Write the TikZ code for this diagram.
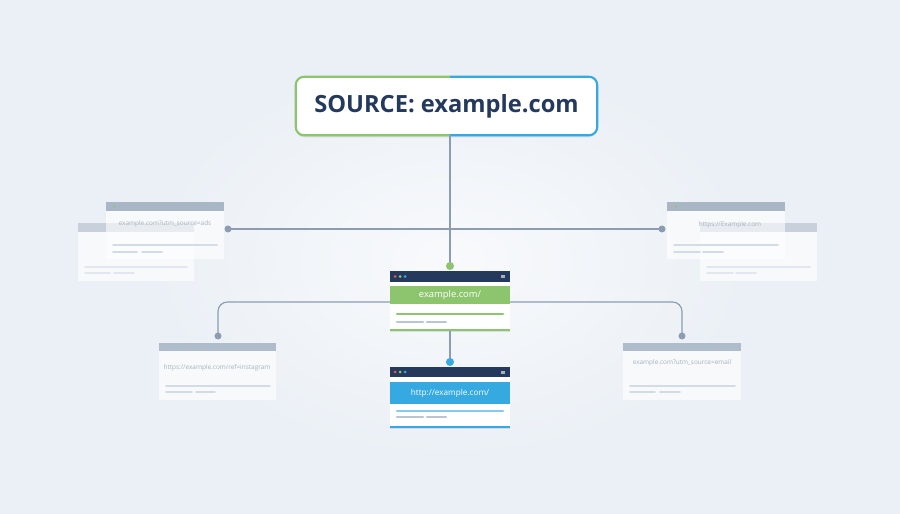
\documentclass[tikz,border=0pt]{standalone}
\usepackage{fontspec}
\setmainfont{Open Sans}
\usetikzlibrary{fit,shadows}
\definecolor{bgcol}{HTML}{EBF0F6}
\definecolor{navy}{HTML}{24395C}
\definecolor{leafgreen}{HTML}{8CC56E}
\definecolor{skyblue}{HTML}{36A9E1}
\definecolor{linegray}{HTML}{8C9DB2}
\definecolor{fadehead}{HTML}{A8B6C6}
\definecolor{fadebar}{HTML}{D3DCE6}
\definecolor{fadetext}{HTML}{A5B2C0}
\definecolor{dotred}{HTML}{E8554E}
\definecolor{barblue}{HTML}{B8C6D4}
\begin{document}
\begin{tikzpicture}[x=0.03cm,y=-0.03cm,
    link/.style={draw=linegray,line width=1pt},
    winbox/.style={fill=white,inner sep=0pt,drop shadow={shadow xshift=0pt,shadow yshift=-2pt,opacity=0.12,fill=navy}},
    fadebox/.style={fill=white,fill opacity=0.6,inner sep=0pt},
    fadelabel/.style={text=fadetext,font=\fontsize{5.5}{6}\selectfont},
    fadeline/.style={draw=fadebar,line width=1.6pt,line cap=round},
    weblabel/.style={text=white,font=\fontsize{7}{8}\selectfont}]
    % background
    \useasboundingbox (0,0) rectangle (900,514);
    \fill[bgcol] (0,0) rectangle (900,514);
    \shade[inner color=white!65!bgcol,outer color=bgcol] (150,60) rectangle (750,460);

    % source box
    \node[winbox,rounded corners=7pt,fit={(296,77)(597,135)}] (source) {};
    \begin{scope}
        \clip (280,60) rectangle (450,150);
        \draw[leafgreen,line width=1.8pt,rounded corners=7pt] (source.north west) rectangle (source.south east);
    \end{scope}
    \begin{scope}
        \clip (450,60) rectangle (620,150);
        \draw[skyblue,line width=1.8pt,rounded corners=7pt] (source.north west) rectangle (source.south east);
    \end{scope}
    \node[text=navy,font=\bfseries\fontsize{20.2}{22}\selectfont] (sourcelabel) at (source) {SOURCE: example.com};

    % back windows
    \node[fadebox,fit={(78,223)(194,281)}] (adsback) {};
    \fill[fadehead,opacity=0.6] (78,223) rectangle (194,232);
    \draw[fadeline,opacity=0.6] (85,267) -- (187,267) (85,273) -- (110,273) (114,273) -- (134,273);
    \node[fadebox,fit={(700,223)(817,281)}] (webback) {};
    \fill[fadehead,opacity=0.6] (700,223) rectangle (817,232);
    \draw[fadeline,opacity=0.6] (707,267) -- (810,267) (707,273) -- (733,273) (736,273) -- (756,273);

    % ads window
    \node[fadebox,fit={(106,202)(224,259)}] (adswin) {};
    \fill[fadehead] (106,202) rectangle (224,211);
    \fill[leafgreen] (114,206.5) circle (1.2);
    \node[fadelabel] (adslabel) at (165,224) {example.com?utm\_source=ads};
    \draw[fadeline] (113,245) -- (217,245) (113,252) -- (137,252) (142,252) -- (162,252);

    % web window
    \node[fadebox,fit={(667,202)(785,259)}] (webwin) {};
    \fill[fadehead] (667,202) rectangle (785,211);
    \fill[dotred!60] (672,206.5) circle (1.2);
    \fill[leafgreen] (676,206.5) circle (1.2);
    \node[fadelabel] (weblabel) at (730,225) {https://Example.com};
    \draw[fadeline] (674,245) -- (778,245) (674,252) -- (700,252) (703,252) -- (723,252);

    % instagram window
    \node[fadebox,fit={(159,343)(276,400)}] (igwin) {};
    \fill[fadehead,opacity=0.9] (159,343) rectangle (276,351);
    \node[fadelabel] (iglabel) at (217,368) {https://example.com/ref=instagram};
    \draw[fadeline] (166,386) -- (270,386) (166,392) -- (192,392) (196,392) -- (215,392);

    % email window
    \node[fadebox,fit={(623,343)(741,400)}] (mailwin) {};
    \fill[fadehead,opacity=0.9] (623,343) rectangle (741,351);
    \node[fadelabel] (maillabel) at (682,363) {example.com?utm\_source=email};
    \draw[fadeline] (630,386) -- (735,386) (630,392) -- (655,392) (660,392) -- (680,392);

    % connectors
    \coordinate (hubdot) at (450,266);
    \coordinate (adsdot) at (228,229);
    \coordinate (webdot) at (662,229);
    \coordinate (mainleft) at (390,302);
    \coordinate (mainright) at (510,302);
    \coordinate (igdot) at (218,336);
    \coordinate (maildot) at (682,336);
    \coordinate (httpdot) at (450,362);
    \draw[link] (source.south -| hubdot) -- (hubdot);
    \draw[link] (adsdot) -- (webdot);
    \draw[link,rounded corners=8pt] (mainleft) -| (igdot);
    \draw[link,rounded corners=8pt] (mainright) -| (maildot);

    % main window
    \node[winbox,fit={(390,271)(510,330)}] (mainwin) {};
    \draw[link] (mainwin.south) -- (httpdot);
    \fill[navy] (mainwin.north west) rectangle ++(120,11);
    \fill[dotred] (395,276.5) circle (1.5);
    \fill[leafgreen] (400,276.5) circle (1.5);
    \fill[skyblue] (405,276.5) circle (1.5);
    \fill[white!60!navy] (501,275) rectangle (505,278);
    \fill[leafgreen] (390,286) rectangle (510,304);
    \node[weblabel,font=\fontsize{8}{9}\selectfont] (mainlabel) at (450,295) {example.com/};
    \draw[leafgreen,line width=2pt,line cap=round] (397,314) -- (503,314);
    \draw[barblue,line width=2pt,line cap=round] (397,322) -- (423,322) (427,322) -- (446,322);
    \draw[leafgreen,line width=2pt] (mainwin.south west) -- (mainwin.south east);

    % http window
    \node[winbox,fit={(390,367)(510,427)}] (httpwin) {};
    \fill[navy] (httpwin.north west) rectangle ++(120,10);
    \fill[dotred] (395,372) circle (1.5);
    \fill[leafgreen] (400,372) circle (1.5);
    \fill[skyblue] (405,372) circle (1.5);
    \fill[white!60!navy] (501,370.5) rectangle (505,373.5);
    \fill[skyblue] (390,382) rectangle (510,404);
    \node[weblabel] (httplabel) at (450,393) {http://example.com/};
    \draw[skyblue!60,line width=2pt,line cap=round] (397,411) -- (503,411);
    \draw[line width=2pt,line cap=round] [skyblue] (397,417) -- (423,417) [barblue] (427,417) -- (446,417);
    \draw[skyblue,line width=2pt] (httpwin.south west) -- (httpwin.south east);

    % dots
    \fill[leafgreen] (hubdot) circle (4);
    \fill[skyblue] (httpdot) circle (4);
    \fill[linegray] (adsdot) circle (3.5);
    \fill[linegray] (webdot) circle (3.5);
    \fill[linegray] (igdot) circle (3.5);
    \fill[linegray] (maildot) circle (3.5);
\end{tikzpicture}
\end{document}
